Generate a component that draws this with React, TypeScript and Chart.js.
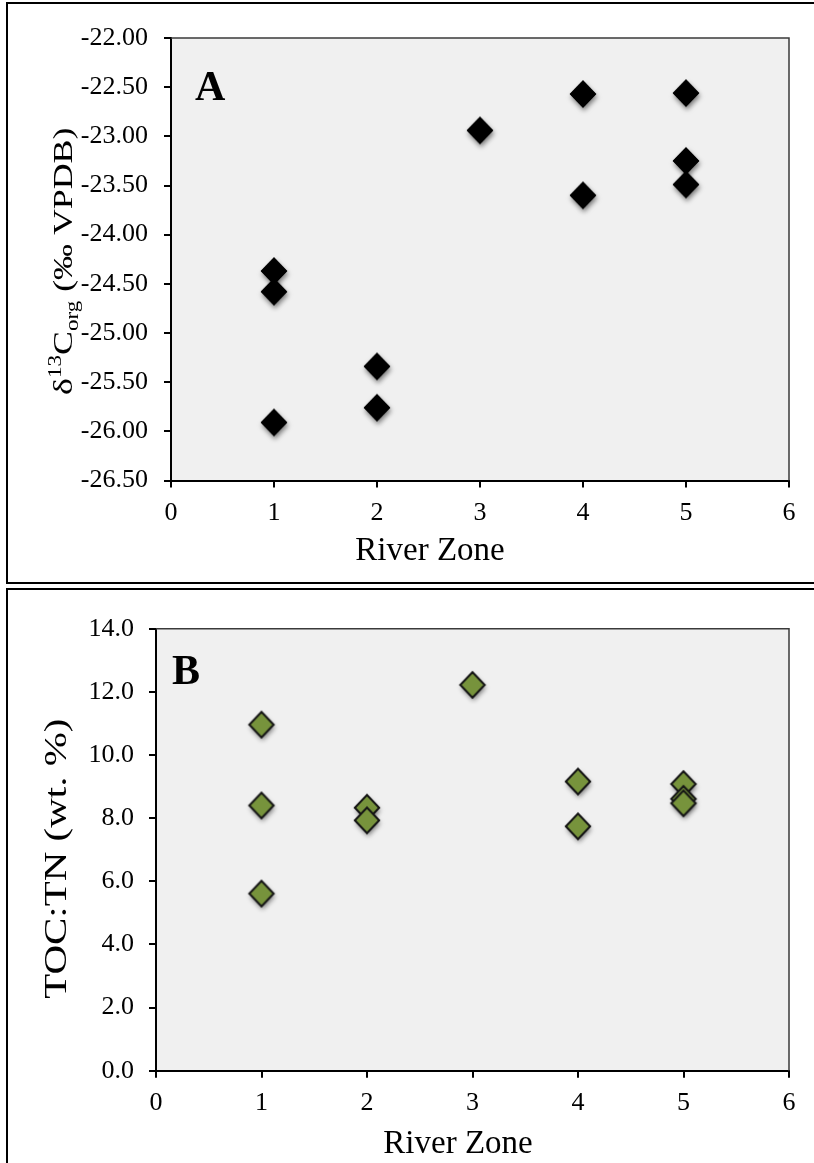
import React, { useEffect, useRef } from 'react';
import { Chart, registerables } from 'chart.js';

Chart.register(...registerables);

// ---------- data ----------
const zoneA = [1, 1, 1, 2, 2, 3, 4, 4, 5, 5, 5];
const d13Corg = [-24.37, -24.58, -25.91, -25.34, -25.76, -22.94, -22.57, -23.6, -22.56, -23.25, -23.49];

const zoneB = [1, 1, 1, 2, 2, 3, 4, 4, 5, 5, 5];
const tocTn = [10.96, 8.4, 5.61, 8.33, 7.93, 12.22, 9.16, 7.74, 9.08, 8.61, 8.47];

const xTickValues = [0, 1, 2, 3, 4, 5, 6];
const yTickValuesA = [-26.5, -26, -25.5, -25, -24.5, -24, -23.5, -23, -22.5, -22];
const yTickValuesB = [0, 2, 4, 6, 8, 10, 12, 14];

const xTitle = 'River Zone';
const yTitlePartsA = [
  { t: 'δ', k: 'n' },
  { t: '13', k: 'sup' },
  { t: 'C', k: 'n' },
  { t: 'org', k: 'sub' },
  { t: ' (‰ VPDB)', k: 'n' },
];
const yTitlePartsB = [{ t: 'TOC:TN (wt. %)', k: 'n' }];

const FONT = '"Liberation Serif", "Times New Roman", serif';

function makeDiamond(fill: string, stroke: string | null, lw: number, rx: number, ry: number) {
  const w = 44, h = 48;
  const c = document.createElement('canvas');
  c.width = w; c.height = h;
  const ctx = c.getContext('2d')!;
  const cx = w / 2, cy = h / 2;
  const path = () => {
    ctx.beginPath();
    ctx.moveTo(cx, cy - ry);
    ctx.lineTo(cx + rx, cy);
    ctx.lineTo(cx, cy + ry);
    ctx.lineTo(cx - rx, cy);
    ctx.closePath();
  };
  ctx.save();
  ctx.shadowColor = 'rgba(0,0,0,0.5)';
  ctx.shadowBlur = 5;
  ctx.shadowOffsetY = 3;
  ctx.shadowOffsetX = 1;
  path();
  ctx.fillStyle = fill;
  ctx.fill();
  ctx.restore();
  path();
  ctx.fillStyle = fill;
  ctx.fill();
  if (stroke) {
    ctx.lineWidth = lw;
    ctx.strokeStyle = stroke;
    ctx.lineJoin = 'miter';
    ctx.stroke();
  }
  return c;
}

const panelDeco = {
  id: 'panelDeco',
  beforeDraw(chart: any) {
    const { ctx, chartArea: a } = chart;
    ctx.save();
    ctx.fillStyle = '#f0f0f0';
    ctx.fillRect(a.left, a.top, a.right - a.left, a.bottom - a.top);
    ctx.restore();
  },
  afterDraw(chart: any, _args: any, opts: any) {
    const { ctx, chartArea: a } = chart;
    ctx.save();
    // top & right frame of plot area
    ctx.strokeStyle = '#3a3a3a';
    ctx.lineWidth = 1.5;
    ctx.beginPath();
    ctx.moveTo(a.left, a.top);
    ctx.lineTo(a.right, a.top);
    ctx.lineTo(a.right, a.bottom);
    ctx.stroke();
    ctx.fillStyle = '#000';
    // panel letter
    ctx.font = `bold ${opts.letterSize}px ${FONT}`;
    ctx.textAlign = 'left';
    ctx.textBaseline = 'alphabetic';
    ctx.fillText(opts.letter, a.left + opts.letterDx, a.top + opts.letterDy);
    // x title
    ctx.font = `${opts.xTitleSize}px ${FONT}`;
    ctx.textAlign = 'center';
    ctx.textBaseline = 'middle';
    ctx.fillText(xTitle, opts.xTitleX, opts.xTitleY);
    // rich y-title (rotated)
    const size = opts.yTitleSize;
    const small = Math.round(size * 0.65);
    const fontOf = (k: string) => `${k === 'n' ? size : small}px ${FONT}`;
    ctx.textAlign = 'left';
    ctx.textBaseline = 'alphabetic';
    let total = 0;
    for (const p of opts.parts) {
      ctx.font = fontOf(p.k);
      total += ctx.measureText(p.t).width;
    }
    const cy = (a.top + a.bottom) / 2 + opts.yTitleDy;
    ctx.translate(opts.yTitleX, cy);
    ctx.rotate(-Math.PI / 2);
    ctx.scale(opts.stretch, 1);
    let x = -total / 2;
    for (const p of opts.parts) {
      ctx.font = fontOf(p.k);
      const dy = p.k === 'sup' ? -size * 0.38 : p.k === 'sub' ? size * 0.22 : 0;
      ctx.fillText(p.t, x, dy);
      x += ctx.measureText(p.t).width;
    }
    ctx.restore();
  },
};

function axisCommon() {
  return {
    grid: { drawOnChartArea: false, drawTicks: true, tickLength: 7, color: '#000', lineWidth: 2 },
    border: { display: true, color: '#000', width: 2 },
  };
}

function buildConfig(p: any) {
  return {
    type: 'scatter',
    data: {
      datasets: [
        {
          data: p.xs.map((x: number, i: number) => ({ x, y: p.ys[i] })),
          pointStyle: p.marker,
          pointRadius: 14,
          pointHoverRadius: 14,
          showLine: false,
        },
      ],
    },
    options: {
      responsive: false,
      animation: false,
      events: [],
      layout: { padding: p.padding },
      plugins: {
        legend: { display: false },
        tooltip: { enabled: false },
        panelDeco: p.deco,
      },
      scales: {
        x: {
          type: 'linear',
          position: 'bottom',
          min: 0,
          max: 6,
          ...axisCommon(),
          afterBuildTicks: (s: any) => { s.ticks = xTickValues.map((v) => ({ value: v })); },
          afterFit: (s: any) => { s.height = p.xHeight; },
          ticks: {
            autoSkip: false,
            maxRotation: 0,
            color: '#000',
            padding: p.xTickPad,
            font: { family: FONT, size: p.tickSize },
            callback: (v: any) => String(v),
          },
          title: { display: false },
        },
        y: {
          type: 'linear',
          position: 'left',
          min: p.yMin,
          max: p.yMax,
          ...axisCommon(),
          afterBuildTicks: (s: any) => { s.ticks = p.yTicks.map((v: number) => ({ value: v })); },
          afterFit: (s: any) => { s.width = p.yWidth; },
          ticks: {
            autoSkip: false,
            color: '#000',
            padding: p.yTickPad,
            font: { family: FONT, size: p.tickSize },
            callback: (v: any) => Number(v).toFixed(p.decimals),
          },
          title: { display: false },
        },
      },
    },
    plugins: [panelDeco],
  };
}

function ChartCanvas({ config, width, height, style }: any) {
  const ref = useRef<HTMLCanvasElement>(null);
  useEffect(() => {
    const chart = new Chart(ref.current!, config() as any);
    return () => chart.destroy();
  }, []);
  return <canvas ref={ref} width={width} height={height} style={{ position: 'absolute', width, height, ...style }} />;
}

export default function App() {
  const cfgA = () =>
    buildConfig({
      xs: zoneA,
      ys: d13Corg,
      marker: makeDiamond('#000000', null, 0, 13.3, 13.8),
      padding: { left: 0, top: 38, right: 25, bottom: 0 },
      xHeight: 102.5,
      xTickPad: 10,
      yWidth: 171,
      yTickPad: 16,
      yMin: -26.5,
      yMax: -22,
      yTicks: yTickValuesA,
      decimals: 2,
      tickSize: 26,
      deco: {
        letter: 'A',
        letterDx: 24,
        letterDy: 62,
        letterSize: 42,
        xTitleSize: 33,
        xTitleX: 430,
        xTitleY: 551,
        parts: yTitlePartsA,
        yTitleSize: 28,
        yTitleX: 72,
        yTitleDy: 2,
        stretch: 1.28,
      },
    });
  const cfgB = () =>
    buildConfig({
      xs: zoneB,
      ys: tocTn,
      marker: makeDiamond('#77933c', '#151515', 2, 12.2, 12.7),
      padding: { left: 0, top: 39.7, right: 25, bottom: 0 },
      xHeight: 92.3,
      xTickPad: 10,
      yWidth: 156,
      yTickPad: 15,
      yMin: 0,
      yMax: 14,
      yTicks: yTickValuesB,
      decimals: 1,
      tickSize: 26,
      deco: {
        letter: 'B',
        letterDx: 16,
        letterDy: 55,
        letterSize: 42,
        xTitleSize: 33,
        xTitleX: 458,
        xTitleY: 555,
        parts: yTitlePartsB,
        yTitleSize: 32,
        yTitleX: 66,
        yTitleDy: 9,
        stretch: 1.28,
      },
    });

  return (
    <div
      style={{
        position: 'absolute',
        left: 0,
        top: 0,
        width: 814,
        height: 1163,
        overflow: 'hidden',
        background: '#fff',
      }}
    >
      <div style={{ position: 'absolute', left: 6, top: 2, width: 830, height: 582, border: '2px solid #000', boxSizing: 'border-box' }} />
      <div style={{ position: 'absolute', left: 6, top: 588, width: 830, height: 620, border: '2px solid #000', boxSizing: 'border-box' }} />
      <ChartCanvas config={cfgA} width={814} height={583} style={{ left: 0, top: 0 }} />
      <ChartCanvas config={cfgB} width={814} height={574} style={{ left: 0, top: 589 }} />
    </div>
  );
}
